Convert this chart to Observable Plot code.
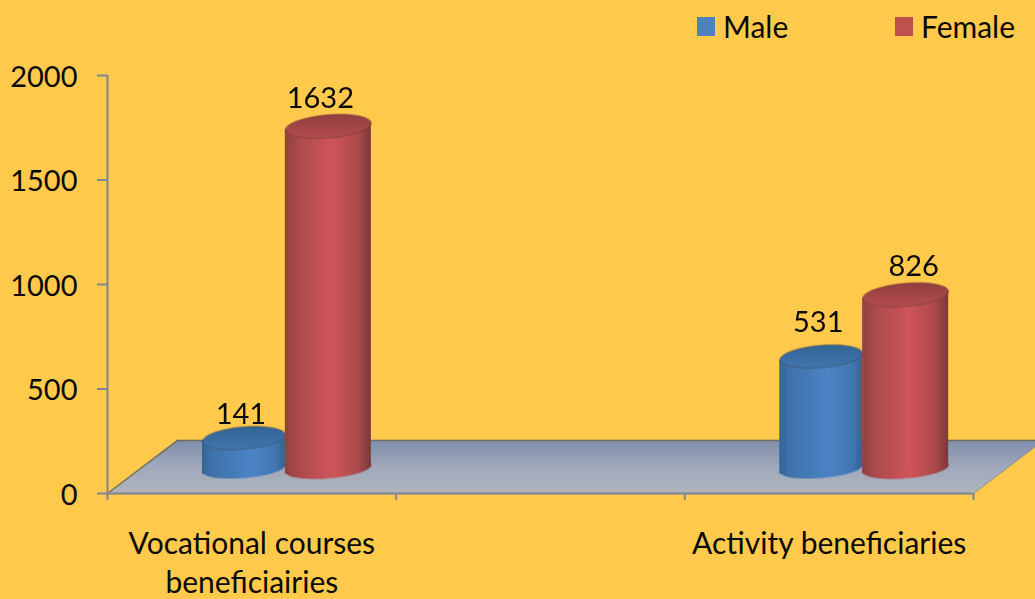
<!DOCTYPE html>
<html>
<head>
<meta charset="utf-8">
<script src="https://cdn.jsdelivr.net/npm/d3@7"></script>
<script src="https://cdn.jsdelivr.net/npm/@observablehq/plot@0.6"></script>
<style>
html,body{margin:0;padding:0;width:1035px;height:599px;overflow:hidden;background:#FFC94B;font-family:Lato,"Open Sans",sans-serif;}
#chart{position:absolute;left:0;top:0;}
.key{position:absolute;top:6px;height:40px;line-height:40px;font-size:30px;color:#0a0a0a;white-space:nowrap;}
.swatch{position:absolute;top:11px;left:0;width:18px;height:19px;}
.key span.t{position:absolute;left:26px;top:0;}
</style>
</head>
<body>
<div id="chart"></div>
<div class="key" style="left:697px"><div class="swatch" style="background:#4F81BD"></div><span class="t">Male</span></div>
<div class="key" style="left:895px"><div class="swatch" style="background:#C0504D"></div><span class="t">Female</span></div>
<script>
const categories = ["Vocational courses\nbeneficiairies", "", "Activity beneficiaries"];
const male = [141, null, 531];
const female = [1632, null, 826];
const yTicks = [0, 500, 1000, 1500, 2000];
const xBoundaries = [0, 1, 2, 3];

const W = 1035, H = 599;
const margins = {marginLeft: 107, marginRight: 62, marginTop: 75, marginBottom: 106};
const unitPx = (W - margins.marginLeft - margins.marginRight) / 3;

// cylinder geometry in category units / value units
const groupStart = 0.329, maleWidth = 0.287, femaleWidth = 0.298;
const tiltUnits = 17, baseDrop = 15;
const depthX = 0.2425, depthY = 254;

function rows(values, off, width) {
  return categories.map((c, i) => ({i, v: values[i], x1: i + off, x2: i + off + width}))
    .filter(d => d.v != null);
}
const maleRows = rows(male, groupStart, maleWidth);
const femaleRows = rows(female, groupStart + maleWidth, femaleWidth);

const bodyRows = rs => rs.flatMap(d => [
  {k: d.i, x: d.x1, y1: -tiltUnits - baseDrop, y2: d.v - tiltUnits},
  {k: d.i, x: d.x2, y1: tiltUnits - baseDrop, y2: d.v + tiltUnits}
]);

const floorShape = [
  {x: 0, y: 0}, {x: 3, y: 0}, {x: 3 + depthX, y: depthY}, {x: depthX, y: depthY}
];

const ellipse = (ratio, deg) => ({
  draw(ctx, size) {
    const R = Math.sqrt(size / Math.PI), a = deg * Math.PI / 180, n = 60;
    for (let k = 0; k < n; k++) {
      const t = 2 * Math.PI * k / n, ex = R * Math.cos(t), ey = R * ratio * Math.sin(t);
      const px = ex * Math.cos(a) - ey * Math.sin(a), py = ex * Math.sin(a) + ey * Math.cos(a);
      k ? ctx.lineTo(px, py) : ctx.moveTo(px, py);
    }
    ctx.closePath();
  }
});
const tiltDeg = -Math.atan2(tiltUnits * 2 * 0.209, 84) * 180 / Math.PI;
const topSymbol = ellipse(0.27, tiltDeg);
const baseSymbol = ellipse(0.23, tiltDeg);

function gradient(id, stops, vertical) {
  return `<linearGradient id="${id}" x1="0" y1="0" x2="${vertical ? 0 : 1}" y2="${vertical ? 1 : 0}">` +
    stops.map(([o, c]) => `<stop offset="${o}" stop-color="${c}"/>`).join("") + `</linearGradient>`;
}
const defsMark = () => {
  const g = d3.create("svg:defs");
  g.html(
    gradient("blueBody", [[0, "#356597"], [.12, "#3f72ab"], [.6, "#4b84c6"], [.88, "#4076b2"], [1, "#356391"]]) +
    gradient("redBody", [[0, "#8f4043"], [.15, "#aa4a4c"], [.55, "#cf5558"], [.85, "#aa494b"], [1, "#7c383a"]]) +
    gradient("blueTop", [[0, "#346596"], [1, "#4175ae"]], true) +
    gradient("redTop", [[0, "#933f42"], [1, "#b44d4f"]], true) +
    gradient("floor", [[0, "#7e8fab"], [.5, "#a0a8bb"], [1, "#b0b4bb"]], true)
  );
  return g.node();
};

const soft = "blur(0.6px)";
function cylinder(rs, body, top) {
  const r = (rs[0].x2 - rs[0].x1) * unitPx / 2;
  const cx = d => (d.x1 + d.x2) / 2;
  return [
    Plot.dot(rs, {x: cx, y: () => 0, r, symbol: baseSymbol, fill: body, stroke: "none", dy: -25, imageFilter: soft}),
    Plot.areaY(bodyRows(rs), {x: "x", y1: "y1", y2: "y2", z: "k", fill: body, dy: -26, imageFilter: soft}),
    Plot.dot(rs, {x: cx, y: "v", r, symbol: topSymbol, fill: top, stroke: "#3a2a20", strokeOpacity: 0.35, strokeWidth: 1, dy: -26, imageFilter: soft})
  ];
}

const labelNudge = [[-3, 5], [-8, 0], [-3, -6], [8, 0]];
const labelRows = [...maleRows, ...femaleRows].sort((a, b) => a.i - b.i || a.x1 - b.x1);

const chart = Plot.plot({
  width: W, height: H, ...margins,
  style: {background: "transparent", fontFamily: "Lato, 'Open Sans', sans-serif", fontSize: "29px", color: "#0a0a0a", overflow: "hidden"},
  x: {domain: [0, 3], axis: null},
  y: {domain: [0, 2000], axis: null},
  marks: [
    defsMark,
    Plot.line(floorShape, {x: "x", y: "y", fill: "url(#floor)", stroke: "none"}),
    Plot.line(floorShape.slice(2), {x: "x", y: "y", stroke: "#6b6b62", strokeWidth: 1.5}),
    Plot.line([floorShape[0], floorShape[3]], {x: "x", y: "y", stroke: "#6f6f60", strokeWidth: 1.5}),
    Plot.line(floorShape.slice(1, 3), {x: "x", y: "y", stroke: "#8c8f95", strokeWidth: 1}),
    Plot.ruleY([0], {stroke: "#8a8c92", strokeWidth: 2.5}),
    Plot.ruleX([0], {stroke: "#7f8690", strokeWidth: 2}),
    Plot.axisY({ticks: yTicks, tickSize: 10, stroke: "#7f8690", strokeWidth: 2, tickFormat: () => "", label: null}),
    Plot.axisY({ticks: yTicks, tickSize: 0, tickPadding: 30, dy: 2, color: "#0a0a0a", fontSize: 29, label: null, tickFormat: d => String(d)}),
    Plot.axisX({ticks: xBoundaries, tickSize: 7, stroke: "#7f8690", strokeWidth: 2, tickFormat: () => "", label: null}),
    ...cylinder(maleRows, "url(#blueBody)", "url(#blueTop)"),
    ...cylinder(femaleRows, "url(#redBody)", "url(#redTop)"),
    ...labelRows.map((d, k) => Plot.text([d], {
      x: e => (e.x1 + e.x2) / 2, y: "v", text: e => String(e.v),
      dx: labelNudge[k][0], dy: -54 + labelNudge[k][1], fill: "#0a0a0a", fontSize: 29
    })),
    Plot.text(categories.map((c, i) => ({c, i})).filter(d => d.c), {
      x: d => d.i + 0.5, y: () => 0, text: "c", dy: 33, lineAnchor: "top", lineHeight: 1.3,
      fill: "#0a0a0a", fontSize: 30
    })
  ]
});
document.getElementById("chart").append(chart);
</script>
</body>
</html>
